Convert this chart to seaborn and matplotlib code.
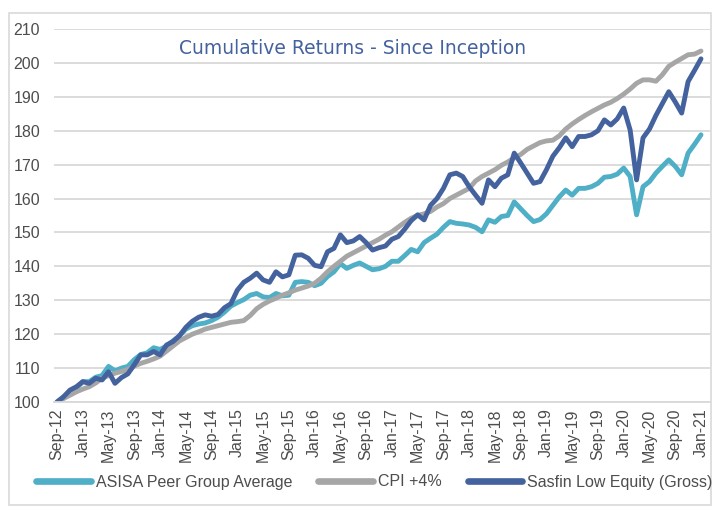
import numpy as np
import pandas as pd
import matplotlib
matplotlib.use('Agg')
import matplotlib.pyplot as plt
import seaborn as sns
from matplotlib.patches import Rectangle

# Monthly labels Sep-12 .. Jan-21
months = pd.date_range('2012-09-01', '2021-01-01', freq='MS').strftime('%b-%y').tolist()

# Values (index = 100 at inception)
asisa = [100, 101.5, 103, 104, 106, 106, 107.3, 107.8, 110.5, 109.2,
         110, 110.5, 112.5, 114, 114.5, 116, 115.5, 116.5, 118, 119.5,
         121.5, 122.5, 123, 123.3, 124, 125, 126.5, 128.3, 129.3, 130.2,
         131.5, 132, 131, 130.8, 132, 131.3, 131.5, 135.3, 135.5, 135.3,
         134.3, 135, 137, 138.4, 140.8, 139.4, 140.3, 141, 140, 139,
         139.3, 140, 141.5, 141.5, 143.2, 145, 144.3, 147, 148.3, 149.5,
         151.5, 153.2, 152.7, 152.5, 152.2, 151.5, 150.2, 153.7, 153, 154.7,
         155, 159, 157, 155, 153.2, 153.8, 155.5, 158, 160.5, 162.5,
         161, 163, 163, 163.5, 164.5, 166.3, 166.5, 167.2, 169, 166.5,
         155.2, 163.5, 165, 167.5, 169.5, 171.4, 169.5, 167, 173.4, 176,
         178.8]

cpi = [100, 101, 102, 103, 103.8, 104.5, 105.6, 107, 107.8, 108.5,
       109, 109.6, 110.6, 111.4, 112, 112.7, 113.5, 115, 116.5, 118,
       119, 120, 120.7, 121.5, 122, 122.5, 123, 123.5, 123.7, 124,
       125.5, 127.5, 128.8, 129.8, 130.6, 131.5, 132.2, 133, 133.6, 134.2,
       135, 136.5, 138.4, 140, 141.5, 143, 144, 145, 146, 147,
       148, 149.2, 150.2, 151.6, 153, 154.2, 155, 155.5, 156.2, 157.5,
       158.5, 160, 161, 162, 163, 165.2, 166.5, 167.5, 168.5, 169.8,
       170.8, 172, 173, 174.5, 175.5, 176.5, 177, 177.2, 178.5, 180.5,
       182, 183.3, 184.5, 185.6, 186.6, 187.6, 188.4, 189.5, 190.8, 192.3,
       194, 195, 195, 194.6, 196.5, 199, 200.2, 201.3, 202.4, 202.6,
       203.5]

sasfin = [100, 101.5, 103.5, 104.5, 106, 105.5, 107, 106.5, 108.9, 105.5,
          107.2, 108.3, 111, 113.9, 113.9, 114.9, 113.9, 116.8, 117.8, 119.5,
          122, 123.8, 125, 125.7, 125.3, 125.8, 127.8, 129, 133, 135.3,
          136.5, 138, 136, 135.3, 138.4, 136.9, 137.5, 143.3, 143.4, 142.4,
          140.3, 139.9, 144.3, 145.3, 149.3, 147, 147.5, 148.8, 147, 144.8,
          145.5, 146, 148, 148.8, 151, 153.5, 155.2, 153.7, 158, 160,
          163, 167, 167.5, 166.5, 163.5, 161, 158.6, 165.5, 163.5, 166,
          167, 173.4, 170.5, 167.5, 164.5, 165, 168.5, 172.5, 175, 177.9,
          175.3, 178.3, 178.3, 178.8, 180, 183.2, 181.7, 183.5, 186.7, 180.2,
          165.5, 177.9, 180.5, 184.5, 188, 191.5, 188.5, 185.2, 194.5, 197.8,
          201.2]

series_names = ['ASISA Peer Group Average', 'CPI +4%', 'Sasfin Low Equity (Gross)']
colors = ['#4EAFC7', '#A6A6A6', '#44629E']

df = pd.DataFrame({'month': months,
                   series_names[0]: asisa,
                   series_names[1]: cpi,
                   series_names[2]: sasfin})
df['pos'] = np.arange(len(df))
long = df.melt(id_vars=['month', 'pos'], var_name='series', value_name='value')

sns.set_style('white')
plt.rcParams['font.family'] = ['Liberation Sans', 'DejaVu Sans']

fig = plt.figure(figsize=(7.13, 5.07), dpi=100)
ax = fig.add_axes([54 / 713, 1 - 402 / 507, (710 - 54) / 713, (402 - 29) / 507])

sns.lineplot(data=long, x='pos', y='value', hue='series',
             hue_order=series_names, palette=colors,
             linewidth=3.5, ax=ax, legend=False)
for line in ax.lines:
    line.set_solid_capstyle('round')
    line.set_solid_joinstyle('round')

ax.set_ylim(100, 210)
ax.set_xlim(-0.47, 101.4)
ax.set_yticks(range(100, 211, 10))
ax.set_xticks(df['pos'][::4])
ax.set_xticklabels(df['month'][::4], rotation=90)
ax.set_xlabel('')
ax.set_ylabel('')

ax.yaxis.grid(True, color='#D9D9D9', linewidth=1.3)
ax.set_axisbelow(True)
for side in ['top', 'right', 'left']:
    ax.spines[side].set_visible(False)
ax.spines['bottom'].set_color('#D9D9D9')
ax.spines['bottom'].set_linewidth(1.3)

ax.tick_params(axis='y', length=0, pad=10, labelsize=11.5, labelcolor='#4D4D4D')
ax.tick_params(axis='x', length=3, width=1, color='#D9D9D9', pad=1.5,
               labelsize=11.5, labelcolor='#4D4D4D')

# Title sits inside the plot area
fig.text(353 / 713, 1 - 48 / 507, 'Cumulative Returns - Since Inception',
         ha='center', va='center', fontsize=13.5, color='#44629E',
         family=['DejaVu Sans'])

# Legend along the bottom
handles = [plt.Line2D([], [], color=c, linewidth=4.8, solid_capstyle='round')
           for c in colors]
fig.legend(handles, series_names, loc='center left',
           bbox_to_anchor=(30 / 713, 1 - 482 / 507), ncol=3, frameon=False,
           fontsize=11.5, handlelength=3.4, handletextpad=0.35,
           columnspacing=1.6, labelcolor='#4D4D4D', borderaxespad=0)

# Light outer chart border
fig.patches.append(Rectangle((9 / 713, 2 / 507), (711 - 9) / 713, (494 - 2) / 507,
                             transform=fig.transFigure, fill=False,
                             edgecolor='#D9D9D9', linewidth=1.2))

fig.savefig('out.png', dpi=100)
